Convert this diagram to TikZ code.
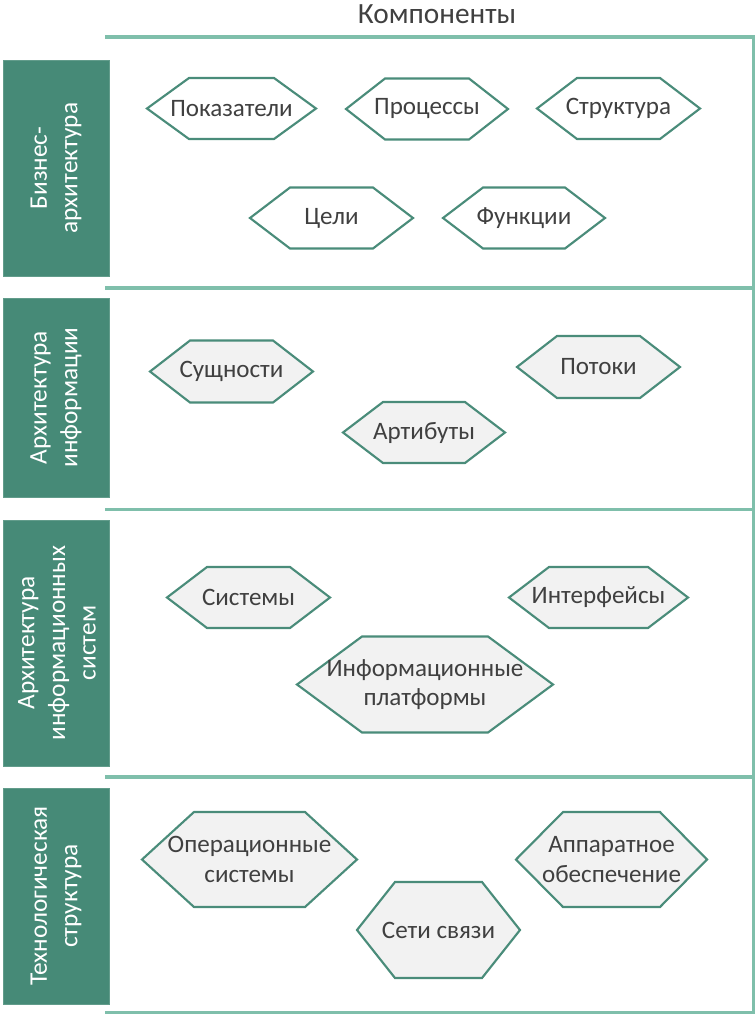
\documentclass[tikz,border=0pt]{standalone}
\usepackage{fontspec}
\setmainfont{Carlito}
\usetikzlibrary{calc}

\definecolor{bandfill}{HTML}{468A77}
\definecolor{rulecol}{HTML}{7FBFAB}
\definecolor{hexedge}{HTML}{4A8C7A}
\definecolor{hexgray}{HTML}{F2F2F2}
\definecolor{inkgray}{HTML}{404040}

\tikzset{
  sectionrule/.style={draw=rulecol, line width=2.4pt},
  bandbox/.style={fill=bandfill, draw=bandfill!85!white, line width=0.5pt},
  bandlabel/.style={text=white, font=\fontsize{19}{23}\selectfont, align=center, rotate=90},
  hexline/.style={draw=hexedge, line width=1.6pt, line join=miter},
  hextext/.style={text=inkgray, font=\fontsize{18.8}{22}\selectfont, align=center, inner sep=0pt},
  titletext/.style={text=inkgray, font=\fontsize{22}{26}\selectfont, inner sep=0pt}
}

% #1 name, #2 cx, #3 cy, #4 width, #5 height, #6 inset, #7 fill, #8 text
\newcommand\hexcomp[8]{%
  \path[hexline, fill=#7]
    ({#2-#4/2},#3) -- ({#2-#4/2+#6},{#3-#5/2}) -- ({#2+#4/2-#6},{#3-#5/2})
    -- ({#2+#4/2},#3) -- ({#2+#4/2-#6},{#3+#5/2}) -- ({#2-#4/2+#6},{#3+#5/2}) -- cycle;
  \node[hextext] (#1) at (#2,#3) {#8};%
}

\begin{document}
\begin{tikzpicture}[x=0.75pt, y=-0.75pt]
  \useasboundingbox (0,0) rectangle (756,1014);

  % heading
  \node[titletext, anchor=base] (title) at (437,23) {Компоненты};

  % section rules and right border
  \coordinate (r0l) at (105,37);   \coordinate (r0r) at (755,37);
  \coordinate (r1l) at (105,288);  \coordinate (r1r) at (755,288);
  \coordinate (r2l) at (105,509.5);\coordinate (r2r) at (755,509.5);
  \coordinate (r3l) at (105,777);  \coordinate (r3r) at (755,777);
  \coordinate (r4l) at (105,1012.5);\coordinate (r4r) at (755,1012.5);
  \draw[sectionrule] (r0l) -- (r0r);
  \draw[sectionrule] (r1l) -- (r1r);
  \draw[sectionrule] (r2l) -- (r2r);
  \draw[sectionrule] (r3l) -- (r3r);
  \draw[sectionrule] (r4l) -- (r4r);
  \draw[sectionrule] (753.6,37) -- (753.6,1012.5);

  % layer bands on the left
  \path[bandbox] (3,60) rectangle (109,276);
  \node[bandlabel] (bandA) at (56,168) {Бизнес-\\архитектура};
  \path[bandbox] (3,298) rectangle (109,497);
  \node[bandlabel] (bandB) at (56,397.5) {Архитектура\\информации};
  \path[bandbox] (3,520) rectangle (109,766);
  \node[bandlabel] (bandC) at (57,643) {Архитектура\\информационных\\систем};
  \path[bandbox] (3,788) rectangle (109,1004);
  \node[bandlabel] (bandD) at (56,896) {Технологическая\\структура};

  % business architecture components
  \hexcomp{pokaz}{231.5}{108.5}{169}{61}{42}{white}{Показатели}
  \hexcomp{proc}{427}{109}{162}{61}{39}{white}{Процессы}
  \hexcomp{struct}{618.5}{108.5}{163}{61}{40}{white}{Структура}
  \hexcomp{goals}{331.5}{218}{163}{61}{40}{white}{Цели}
  \hexcomp{func}{524}{218}{162}{61}{40}{white}{Функции}

  % information architecture components
  \hexcomp{ent}{231.5}{371.5}{163}{62}{40}{hexgray}{Сущности}
  \hexcomp{attr}{424}{432.5}{162}{61}{40}{hexgray}{Артибуты}
  \hexcomp{flows}{598.5}{367}{163}{62}{40}{hexgray}{Потоки}

  % information systems components
  \hexcomp{sys}{248.5}{597.5}{163}{61}{40}{hexgray}{Системы}
  \hexcomp{iface}{598.5}{597.5}{179}{61}{40}{hexgray}{Интерфейсы}
  \hexcomp{platf}{425}{684.5}{256}{96}{65}{hexgray}{Информационные\\платформы}

  % technology components
  \hexcomp{os}{249.5}{859.5}{215}{95}{52}{hexgray}{Операционные\\системы}
  \hexcomp{net}{438.5}{930}{163}{96}{38}{hexgray}{Сети связи}
  \hexcomp{hw}{611.5}{859.5}{191}{95}{47}{hexgray}{Аппаратное\\обеспечение}
\end{tikzpicture}
\end{document}
